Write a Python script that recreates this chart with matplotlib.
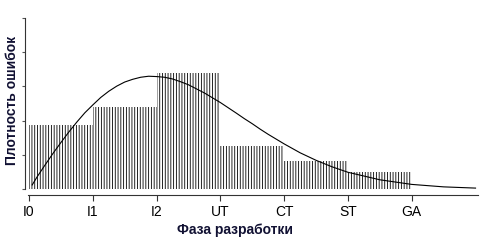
import matplotlib
matplotlib.use('Agg')
import matplotlib.pyplot as plt

# Фазы и плотность ошибок по фазам
phases = ['I0', 'I1', 'I2', 'UT', 'CT', 'ST', 'GA']
bar_heights = [1.86, 2.40, 3.39, 1.26, 0.83, 0.49]

# Кривая (точки)
curve_x = [0.05, 0.125, 0.25, 0.375, 0.5, 0.625, 0.75, 0.875, 1.0, 1.125, 1.25,
           1.375, 1.5, 1.625, 1.75, 1.875, 2.0, 2.125, 2.25, 2.375, 2.5, 2.625,
           2.75, 2.875, 3.0, 3.125, 3.25, 3.375, 3.5, 3.625, 3.75, 3.875, 4.0,
           4.25, 4.5, 4.75, 5.0, 5.5, 6.0, 6.5, 7.0]
curve_y = [0.12, 0.35, 0.70, 1.04, 1.36, 1.67, 1.96, 2.23, 2.46, 2.68, 2.86,
           3.01, 3.13, 3.21, 3.27, 3.30, 3.29, 3.27, 3.22, 3.14, 3.05, 2.93,
           2.81, 2.67, 2.53, 2.375, 2.22, 2.06, 1.91, 1.75, 1.60, 1.46, 1.32,
           1.06, 0.84, 0.65, 0.49, 0.27, 0.135, 0.063, 0.027]

plt.rcParams['font.family'] = ['Liberation Sans', 'DejaVu Sans']
plt.rcParams['hatch.linewidth'] = 0.6

fig = plt.figure(figsize=(4.84, 2.48), dpi=100)
ax = fig.add_axes([25 / 484, 1 - 195 / 248, 455 / 484, 182 / 248])

# Столбцы, заполненные вертикальными линиями
ax.bar(range(len(bar_heights)), bar_heights, width=1, align='edge',
       facecolor='none', edgecolor='black', linewidth=0, hatch='|' * 6)

ax.plot(curve_x, curve_y, color='black', linewidth=0.8)

ax.set_xlim(-0.063, 7.07)
ax.set_ylim(-0.175, 5.15)

ax.set_xticks(range(len(phases)))
ax.set_xticklabels(phases, fontsize=10)
ax.set_yticks(range(6))
ax.set_yticklabels([])

for s in ['top', 'right']:
    ax.spines[s].set_visible(False)
ax.spines['left'].set_bounds(0, 5)
ax.spines['bottom'].set_bounds(-0.02, 7.04)
for s in ['left', 'bottom']:
    ax.spines[s].set_linewidth(0.8)
    ax.spines[s].set_color('#333333')

ax.tick_params(axis='y', length=2.5, width=0.8, color='#555555')
ax.tick_params(axis='x', length=4, width=0.8, color='#333333', pad=3)

ax.set_xlabel('Фаза разработки', fontsize=10, fontweight='bold', color='#111133')
ax.xaxis.set_label_coords(0.4615, -0.155)
ax.set_ylabel('Плотность ошибок', fontsize=10, fontweight='bold', color='#111133')
ax.yaxis.set_label_coords(-0.014, 0.52)

fig.savefig('out.png', dpi=100)
